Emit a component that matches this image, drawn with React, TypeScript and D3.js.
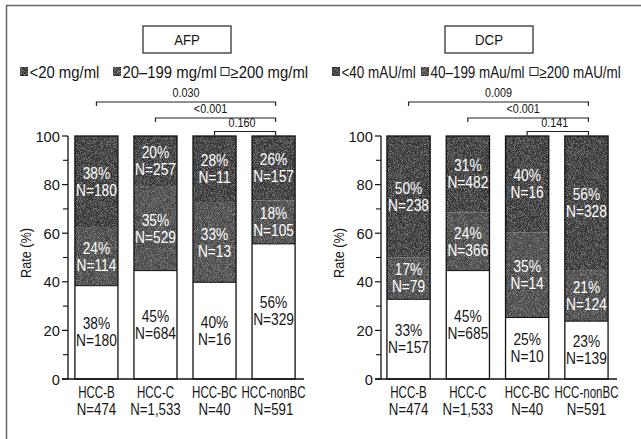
import React from "react";
import * as d3 from "d3";

const groups = ["HCC-B", "HCC-C", "HCC-BC", "HCC-nonBC"];
const groupN = ["N=474", "N=1,533", "N=40", "N=591"];
const yTicks = [0, 20, 40, 60, 80, 100];
const yMinorTicks = [10, 30, 50, 70, 90];

// AFP (bottom = white, middle = medium, top = dark)
const afpHigh = [38.4, 44.6, 39.8, 55.6];
const afpMid = [23.8, 34.5, 32.7, 17.8];
const afpLow = [37.8, 20.9, 27.5, 26.6];
const afpHighPct = ["38%", "45%", "40%", "56%"];
const afpHighN = ["N=180", "N=684", "N=16", "N=329"];
const afpMidPct = ["24%", "35%", "33%", "18%"];
const afpMidN = ["N=114", "N=529", "N=13", "N=105"];
const afpLowPct = ["38%", "20%", "28%", "26%"];
const afpLowN = ["N=180", "N=257", "N=11", "N=157"];
const afpLegend = ["<20 mg/ml", "20\u2013199 mg/ml", "\u2265200 mg/ml"];
const afpP = ["0.030", "<0.001", "0.160"];

// DCP
const dcpHigh = [32.8, 44.6, 25.3, 23.8];
const dcpMid = [17.2, 23.9, 35.0, 21.0];
const dcpLow = [50.0, 31.5, 39.7, 55.2];
const dcpHighPct = ["33%", "45%", "25%", "23%"];
const dcpHighN = ["N=157", "N=685", "N=10", "N=139"];
const dcpMidPct = ["17%", "24%", "35%", "21%"];
const dcpMidN = ["N=79", "N=366", "N=14", "N=124"];
const dcpLowPct = ["50%", "31%", "40%", "56%"];
const dcpLowN = ["N=238", "N=482", "N=16", "N=328"];
const dcpLegend = ["<40 mAU/ml", "40\u2013199 mAu/ml", "\u2265200 mAU/ml"];
const dcpP = ["0.009", "<0.001", "0.141"];

const pFrom = [0, 1, 2];
const pTo = [3, 3, 3];

const FONT = "'Liberation Sans', Arial, sans-serif";
const DARK = "#343434";
const MID = "#474747";
const INK = "#151515";

type TProps = {
  x: number;
  y: number;
  sx: number;
  size: number;
  anchor?: "start" | "middle" | "end";
  fill?: string;
  rotate?: number;
  children: React.ReactNode;
};

function T({ x, y, sx, size, anchor = "start", fill = INK, rotate = 0, children }: TProps) {
  return (
    <text
      transform={`translate(${x},${y}) rotate(${rotate}) scale(${sx},1)`}
      x={0}
      y={0}
      fontSize={size}
      textAnchor={anchor}
      fill={fill}
      fontFamily={FONT}
    >
      {children}
    </text>
  );
}

type PanelProps = {
  axisX: number;
  x0: number;
  x1: number;
  title: string;
  titleBox: [number, number];
  legend: string[];
  legendX: number[];
  legendSx: number;
  high: number[];
  mid: number[];
  low: number[];
  highPct: string[];
  highN: string[];
  midPct: string[];
  midN: string[];
  lowPct: string[];
  lowN: string[];
  pvals: string[];
};

const yScale = d3.scaleLinear().domain([0, 100]).range([379, 136]);

function Panel(p: PanelProps) {
  const x = d3
    .scaleBand<string>()
    .domain(groups)
    .range([p.x0, p.x1])
    .paddingInner(0.271)
    .paddingOuter(0.1);
  const bw = x.bandwidth();
  const bracketY = [102, 118, 131.5];
  const textShift = [0, -5, -3];
  const fills = [DARK, MID, "#ffffff"];
  return (
    <g>
      {/* title */}
      <rect x={p.titleBox[0]} y={26} width={p.titleBox[1] - p.titleBox[0]} height={27} fill="#fff" stroke="#222" strokeWidth={1.2} />
      <T x={(p.titleBox[0] + p.titleBox[1]) / 2} y={45} sx={0.88} size={15} anchor="middle">
        {p.title}
      </T>
      {/* legend */}
      {p.legend.map((l, i) => (
        <g key={l}>
          <rect
            x={p.legendX[i]}
            y={67.5}
            width={8}
            height={8}
            fill={fills[i]}
            stroke="#222"
            strokeWidth={1}
            filter={i < 2 ? "url(#grain)" : undefined}
          />
          <T x={p.legendX[i] + 9.5} y={77.5} sx={p.legendSx} size={16}>
            {l}
          </T>
        </g>
      ))}
      {/* p value brackets */}
      {p.pvals.map((pv, i) => {
        const xa = (x(groups[pFrom[i]]) ?? 0) + bw / 2;
        const xb = (x(groups[pTo[i]]) ?? 0) + bw / 2 + 2;
        const yb = bracketY[i];
        return (
          <g key={i}>
            <path d={`M${xa},${yb + 4}V${yb}H${xb}V${yb + 4}`} fill="none" stroke="#222" strokeWidth={1.2} />
            <T x={(xa + xb) / 2 + textShift[i]} y={yb - 5} sx={0.9} size={12} anchor="middle">
              {pv}
            </T>
          </g>
        );
      })}
      {/* bars */}
      {groups.map((g, i) => {
        const bx = x(g) ?? 0;
        const segs = [
          { v0: 0, v1: p.high[i], fill: "#fff", color: INK, pct: p.highPct[i], n: p.highN[i] },
          { v0: p.high[i], v1: p.high[i] + p.mid[i], fill: MID, color: "#fff", pct: p.midPct[i], n: p.midN[i] },
          { v0: p.high[i] + p.mid[i], v1: p.high[i] + p.mid[i] + p.low[i], fill: DARK, color: "#fff", pct: p.lowPct[i], n: p.lowN[i] },
        ];
        return (
          <g key={g}>
            {segs.map((s, j) => (
              <rect
                key={j}
                x={bx}
                y={yScale(s.v1)}
                width={bw}
                height={yScale(s.v0) - yScale(s.v1)}
                fill={s.fill}
                filter={j > 0 ? "url(#grain)" : undefined}
              />
            ))}
            <line x1={bx} x2={bx + bw} y1={yScale(p.high[i])} y2={yScale(p.high[i])} stroke="#111" strokeWidth={1} />
            <rect x={bx} y={yScale(100)} width={bw} height={yScale(0) - yScale(100)} fill="none" stroke="#111" strokeWidth={1.3} />
            {segs.map((s, j) => {
              const cy = (yScale(s.v0) + yScale(s.v1)) / 2;
              return (
                <g key={"t" + j}>
                  <T x={bx + bw / 2} y={cy - 3} sx={0.86} size={16} anchor="middle" fill={s.color}>
                    {s.pct}
                  </T>
                  <T x={bx + bw / 2} y={cy + 14} sx={0.86} size={16} anchor="middle" fill={s.color}>
                    {s.n}
                  </T>
                </g>
              );
            })}
          </g>
        );
      })}
      {/* axes */}
      <line x1={p.axisX} x2={p.axisX} y1={yScale(100)} y2={yScale(0)} stroke="#111" strokeWidth={1.3} />
      <line x1={p.axisX - 6} x2={p.x1 + 3} y1={yScale(0)} y2={yScale(0)} stroke="#111" strokeWidth={1.3} />
      {yTicks.map((t) => (
        <g key={t}>
          <line x1={p.axisX - 6} x2={p.axisX} y1={yScale(t)} y2={yScale(t)} stroke="#111" strokeWidth={1.2} />
          <T x={p.axisX - 8} y={yScale(t) + 5.5} sx={0.95} size={15.5} anchor="end">
            {t}
          </T>
        </g>
      ))}
      {yMinorTicks.map((t) => (
        <line key={t} x1={p.axisX - 5} x2={p.axisX} y1={yScale(t)} y2={yScale(t)} stroke="#111" strokeWidth={1.1} />
      ))}
      <T x={p.axisX - 37} y={253} rotate={-90} sx={0.82} size={15.5} anchor="middle">
        Rate (%)
      </T>
      {groups.map((g, i) => (
        <g key={g}>
          <T x={(x(g) ?? 0) + bw / 2} y={397.5} sx={0.68} size={17} anchor="middle">
            {g}
          </T>
          <T x={(x(g) ?? 0) + bw / 2} y={414.5} sx={0.78} size={17} anchor="middle">
            {groupN[i]}
          </T>
        </g>
      ))}
    </g>
  );
}

export default function App() {
  return (
    <svg width={641} height={439} style={{ position: "absolute", left: 0, top: 0, background: "#fff" }}>
      <defs>
        <filter id="grain" x="0" y="0" width="100%" height="100%">
          <feTurbulence type="fractalNoise" baseFrequency="1.3" numOctaves={1} seed={4} result="noise" />
          <feColorMatrix
            in="noise"
            type="matrix"
            values="0 0 0 0 1  0 0 0 0 1  0 0 0 0 1  0.7 0 0 0 -0.32"
            result="speck"
          />
          <feComposite in="speck" in2="SourceGraphic" operator="in" result="speckIn" />
          <feMerge>
            <feMergeNode in="SourceGraphic" />
            <feMergeNode in="speckIn" />
          </feMerge>
        </filter>
      </defs>
      <rect x={0} y={0} width={641} height={439} fill="#fff" />
      <path d="M6.5,439V5.5H641" fill="none" stroke="#666" strokeWidth={1.5} />
      <Panel
        axisX={68}
        x0={69}
        x1={301}
        title="AFP"
        titleBox={[143, 231]}
        legend={afpLegend}
        legendX={[20, 113, 221]}
        legendSx={0.93}
        high={afpHigh}
        mid={afpMid}
        low={afpLow}
        highPct={afpHighPct}
        highN={afpHighN}
        midPct={afpMidPct}
        midN={afpMidN}
        lowPct={afpLowPct}
        lowN={afpLowN}
        pvals={afpP}
      />
      <Panel
        axisX={381}
        x0={381}
        x1={614}
        title="DCP"
        titleBox={[445, 533]}
        legend={dcpLegend}
        legendX={[332, 421, 530]}
        legendSx={0.84}
        high={dcpHigh}
        mid={dcpMid}
        low={dcpLow}
        highPct={dcpHighPct}
        highN={dcpHighN}
        midPct={dcpMidPct}
        midN={dcpMidN}
        lowPct={dcpLowPct}
        lowN={dcpLowN}
        pvals={dcpP}
      />
    </svg>
  );
}
